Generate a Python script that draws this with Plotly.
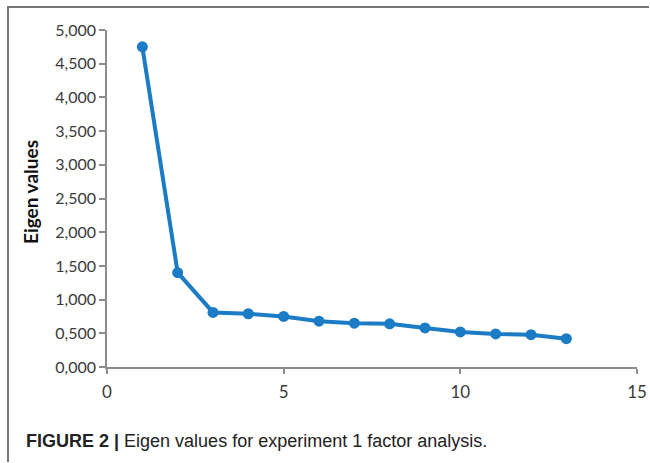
import plotly.graph_objects as go

# Data
factors = [1, 2, 3, 4, 5, 6, 7, 8, 9, 10, 11, 12, 13]
eigen_values = [4.75, 1.40, 0.81, 0.79, 0.75, 0.68, 0.65, 0.64, 0.58, 0.52, 0.49, 0.48, 0.42]
y_tick_vals = [0, 0.5, 1.0, 1.5, 2.0, 2.5, 3.0, 3.5, 4.0, 4.5, 5.0]
y_tick_text = ["0,000", "0,500", "1,000", "1,500", "2,000", "2,500", "3,000", "3,500", "4,000", "4,500", "5,000"]
x_tick_vals = [0, 5, 10, 15]
x_tick_text = ["0", "5", "10", "15"]

W, H = 650, 463
L, R, T, B = 107, 13, 30, 96
pw, ph = W - L - R, H - T - B

def px_x(p):
    return (p - L) / pw

def px_y(p):
    return (H - B - p) / ph

line_color = "#1b7bc4"
axis_color = "#8c8c8c"
font_tick = "Lato, 'Open Sans', sans-serif"

fig = go.Figure()
fig.add_trace(go.Scatter(
    x=factors, y=eigen_values, mode="lines+markers",
    line=dict(color=line_color, width=4),
    marker=dict(color=line_color, size=11),
    showlegend=False, cliponaxis=False,
))

fig.update_layout(
    width=W, height=H,
    margin=dict(l=L, r=R, t=T, b=B),
    paper_bgcolor="white", plot_bgcolor="white",
    xaxis=dict(range=[0, 15], tickvals=x_tick_vals, ticktext=x_tick_text,
               showgrid=False, zeroline=False, showline=True, linecolor=axis_color, linewidth=1.5,
               ticks="outside", ticklen=5, tickcolor=axis_color, tickwidth=1.5,
               ticklabelstandoff=4, automargin=False,
               tickfont=dict(family=font_tick, size=17, color="#3a3a3a")),
    yaxis=dict(range=[0, 5], tickvals=y_tick_vals, ticktext=y_tick_text,
               showgrid=False, zeroline=False, showline=True, linecolor=axis_color, linewidth=1.5,
               ticks="outside", ticklen=6, tickcolor=axis_color, tickwidth=1.5, automargin=False,
               tickfont=dict(family=font_tick, size=16, color="#3a3a3a")),
    shapes=[
        dict(type="line", xref="paper", yref="paper", layer="above",
             x0=px_x(7), x1=px_x(649), y0=px_y(7), y1=px_y(7),
             line=dict(color="#777777", width=2)),
        dict(type="line", xref="paper", yref="paper", layer="above",
             x0=px_x(8), x1=px_x(8), y0=px_y(6), y1=px_y(462),
             line=dict(color="#777777", width=2)),
    ],
    annotations=[
        dict(text="<b>Eigen values</b>", xref="paper", yref="paper",
             x=px_x(31), y=px_y(192), textangle=-90, showarrow=False,
             xanchor="center", yanchor="middle",
             font=dict(family=font_tick, size=19, color="#111111")),
        dict(text="<b>FIGURE 2 |</b> Eigen values for experiment 1 factor analysis.",
             xref="paper", yref="paper", x=px_x(24), y=px_y(441),
             xanchor="left", yanchor="middle", showarrow=False,
             font=dict(family="'Liberation Sans', Arial, sans-serif",
                       size=18, color="#222222")),
    ],
)

fig.write_html("out.html", config={"displayModeBar": False},
               post_script="document.documentElement.style.margin='0';document.documentElement.style.overflow='hidden';document.body.style.margin='0';document.body.style.overflow='hidden';")
